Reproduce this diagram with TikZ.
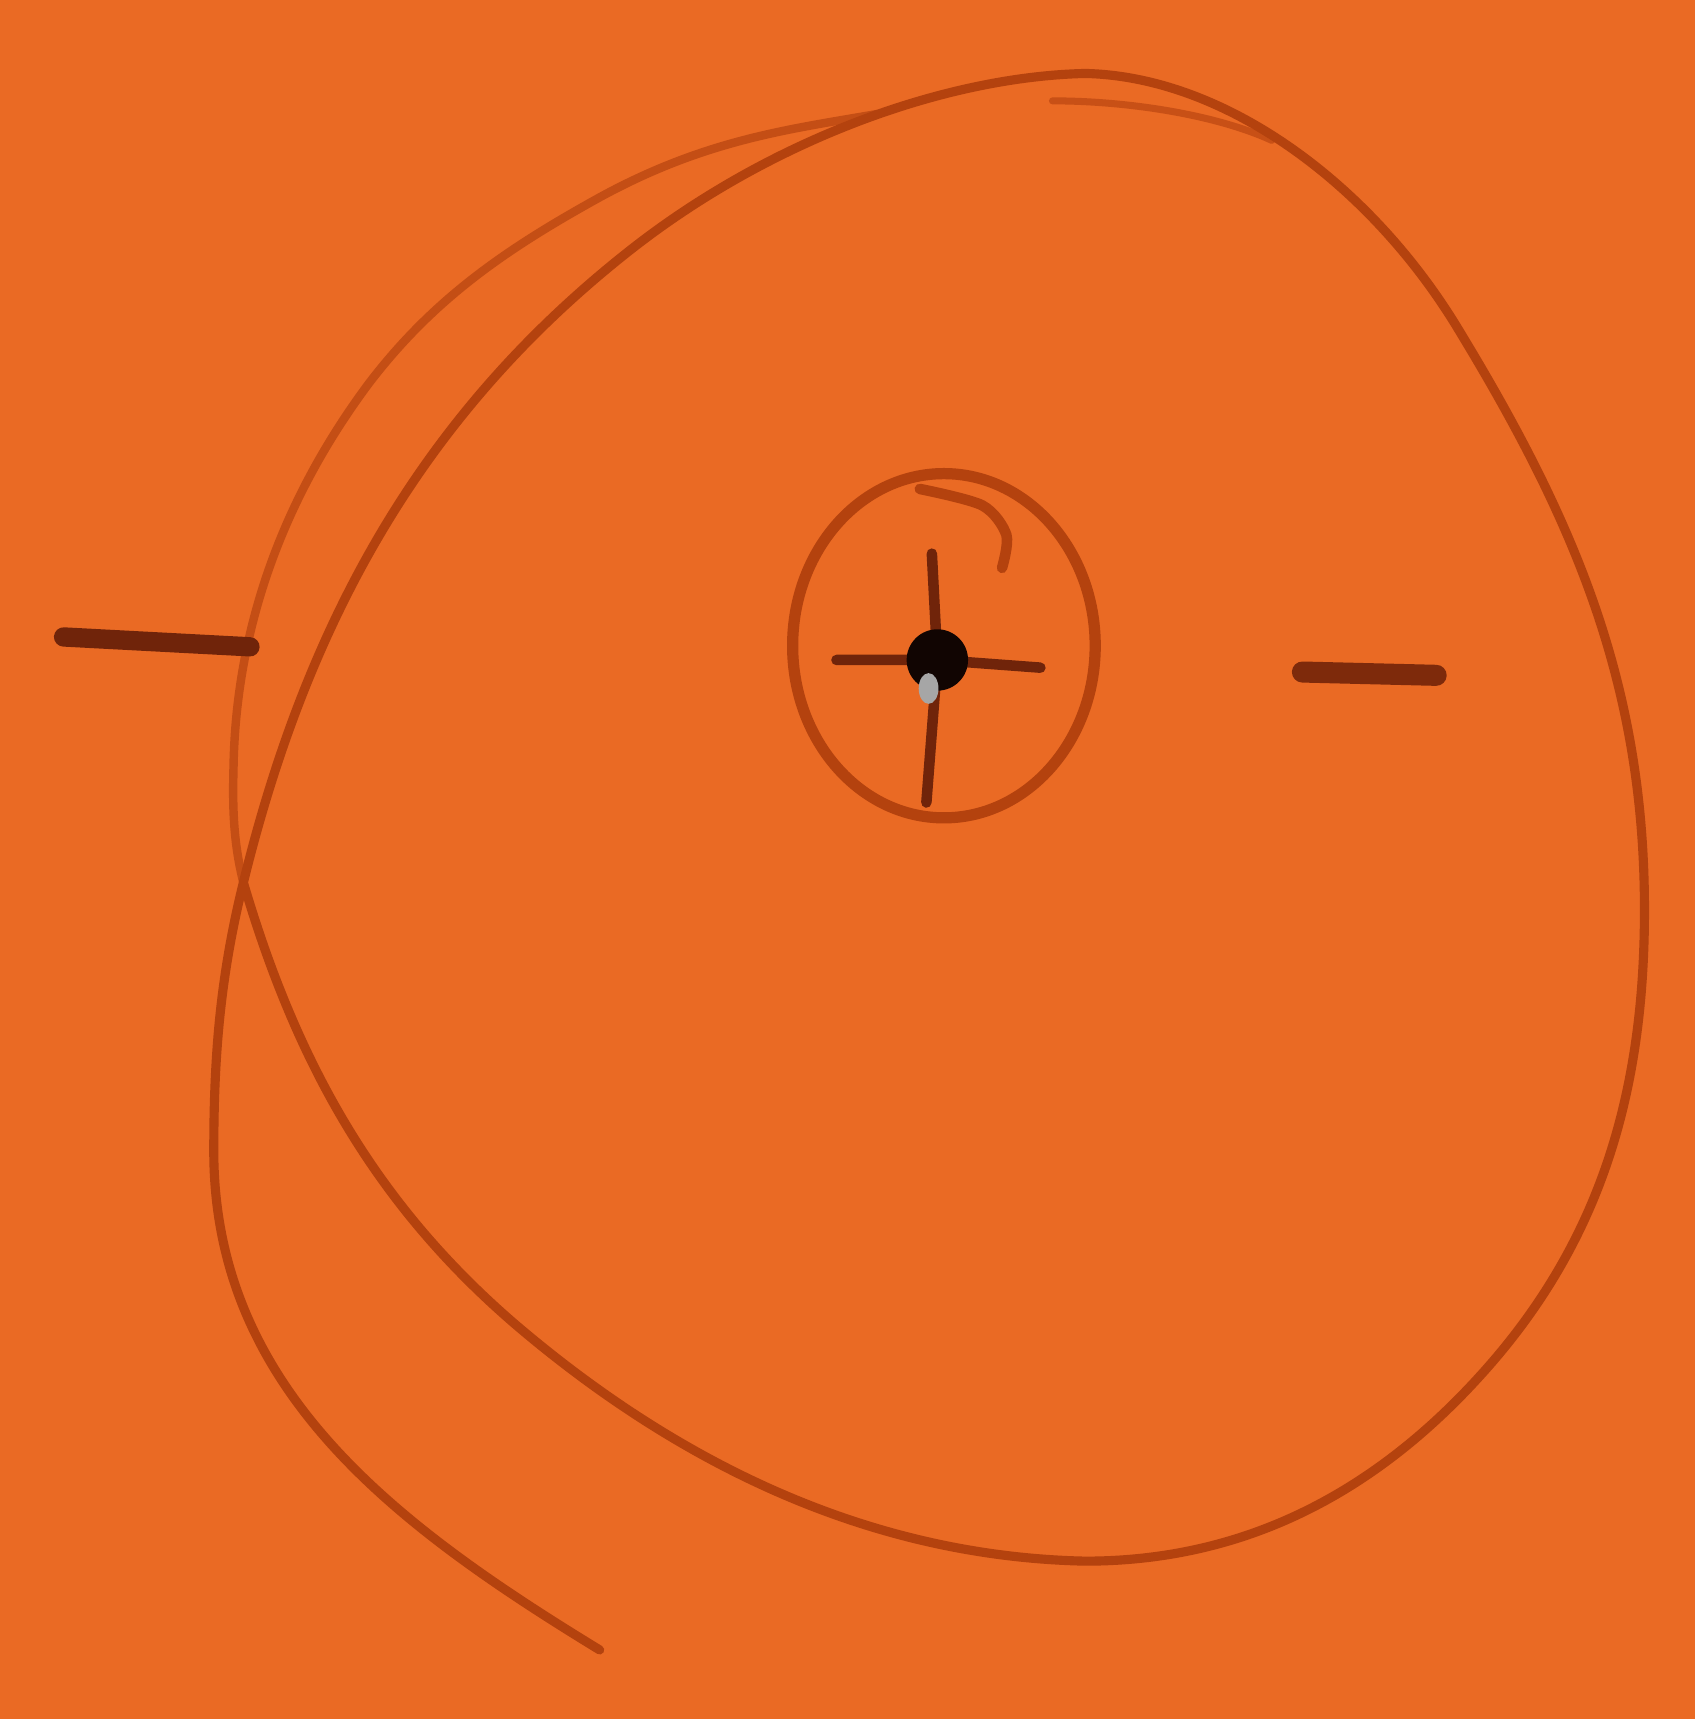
\documentclass[tikz,border=0pt]{standalone}
\usepackage{tikz}
\usetikzlibrary{calc}

\definecolor{paper}{RGB}{234,106,36}
\definecolor{pencil}{RGB}{180,66,14}
\definecolor{faint}{RGB}{200,80,22}
\definecolor{ink}{RGB}{112,36,10}

\begin{document}
\begin{tikzpicture}[
        x=0.010964cm, y=-0.010964cm,
        stroke/.style={draw=pencil, line width=2.6pt, line cap=round, line join=round},
        thinstroke/.style={draw=faint, line width=2pt, line cap=round},
        tick/.style={draw=ink, line width=5pt, line cap=round},
        cross/.style={draw=ink, line width=3pt, line cap=round}
    ]

    % --- Paper ---
    \fill[paper] (0,0) rectangle (1546,1568);
    \useasboundingbox (0,0) rectangle (1546,1568);

    % --- Key points of the big loop ---
    \coordinate (tail)  at (547,1505);
    \coordinate (west)  at (195,1050);
    \coordinate (knot)  at (222,805);
    \coordinate (nw)    at (575,228);
    \coordinate (north) at (990,67);
    \coordinate (ne)    at (1330,300);
    \coordinate (east)  at (1500,830);
    \coordinate (se)    at (1350,1255);
    \coordinate (south) at (990,1424);
    \coordinate (sw)    at (470,1208);

    % --- Outer arc, top left (lighter) ---
    \draw[thinstroke, draw=pencil!70!paper, line width=2.4pt] (knot)
        .. controls (213,769) and (212,738) .. (213,700)
        .. controls (215,575) and (257,456) .. (337,349)
        .. controls (396,272) and (462,227) .. (547,180)
        .. controls (644,127) and (720,118) .. (800,104);
    \draw[thinstroke] (960,92) .. controls (1030,92) and (1110,105) .. (1160,128);

    % --- Big loop and crescent ---
    \draw[stroke] (tail)
        .. controls (362,1392) and (195,1268) .. (west)
        .. controls (195,962) and (201,890) .. (knot)
        .. controls (280,569) and (383,379) .. (nw)
        .. controls (701,129) and (860,70) .. (north)
        .. controls (1120,70) and (1252,171) .. (ne)
        .. controls (1437,476) and (1500,625) .. (east)
        .. controls (1500,995) and (1461,1133) .. (se)
        .. controls (1253,1362) and (1135,1424) .. (south)
        .. controls (800,1420) and (626,1341) .. (sw)
        .. controls (341,1097) and (270,968) .. (knot);

    % --- Small circle with cross ---
    \coordinate (hub) at (855,602);
    \coordinate (ring) at (861,589);
    \draw[stroke, line width=3.2pt] (ring) ellipse[x radius=138, y radius=157];
    \draw[stroke, line width=3pt] plot[smooth] coordinates {
        (839,446) (896,461) (918,488) (914,518)};
    \draw[cross] (hub) ++(-5,-97) coordinate (crossN) -- (hub);
    \draw[cross] (hub) -- ++(-10,130) coordinate (crossS);
    \draw[cross] (763,602) coordinate (crossW) -- (hub) -- (949,609) coordinate (crossE);
    \fill[black!85!ink] (hub) circle[radius=28];
    \fill[gray!70] (847,628) ellipse[x radius=9, y radius=14];

    % --- Side dashes ---
    \coordinate (westA) at (58,581);
    \coordinate (westB) at (228,590);
    \coordinate (eastA) at (1188,613);
    \coordinate (eastB) at (1310,616);
    \draw[tick, line width=5.5pt] (westA) -- (westB);
    \draw[tick, line width=6pt, draw=ink!80!pencil] (eastA) -- (eastB);

\end{tikzpicture}
\end{document}
